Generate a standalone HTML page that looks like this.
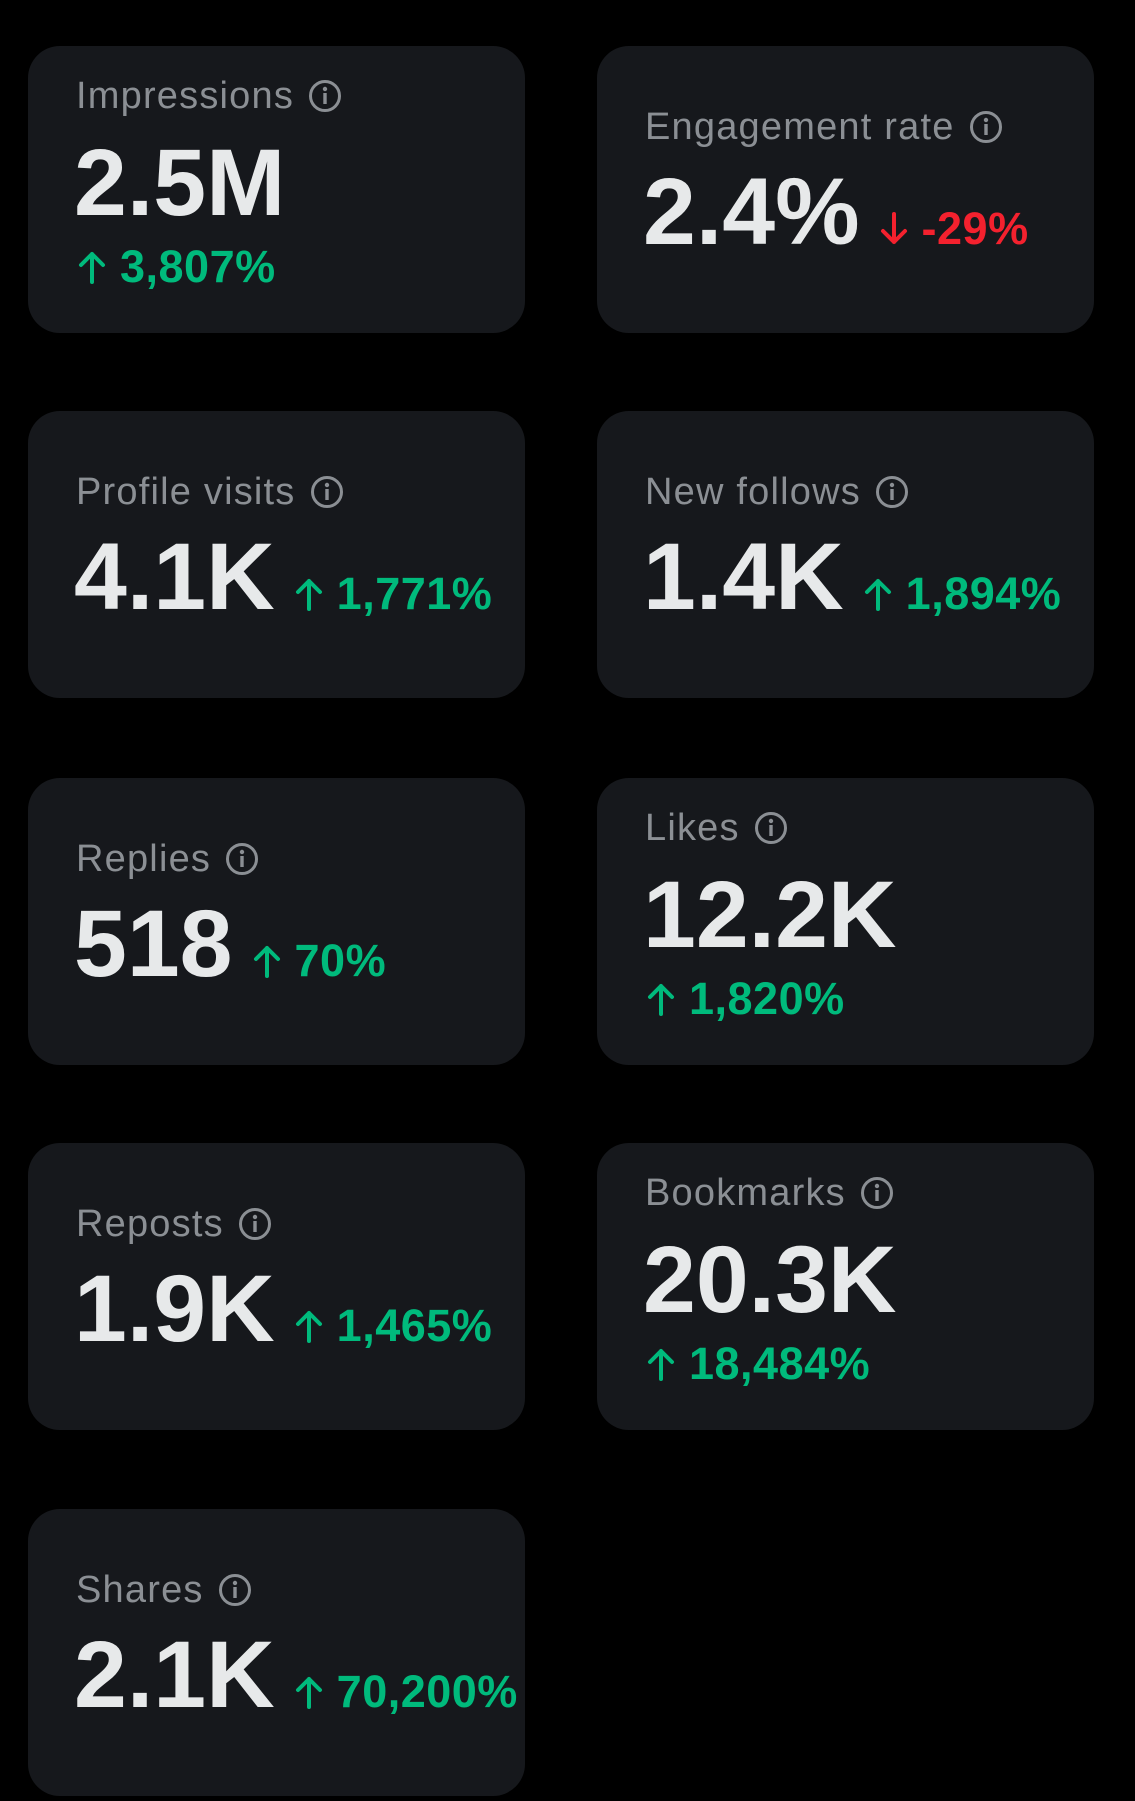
<!DOCTYPE html>
<html><head><meta charset="utf-8"><style>
html,body{margin:0;padding:0;background:#000;}
body{width:1135px;height:1801px;position:relative;overflow:hidden;font-family:"Liberation Sans","DejaVu Sans",sans-serif;}
.card{position:absolute;width:497px;height:287px;background:#16181c;border-radius:32px;}
.l{left:28px}.r{left:597px}
.lab{position:absolute;left:48px;font-size:38px;line-height:38px;color:#8b8f94;white-space:nowrap;display:flex;align-items:center;letter-spacing:1.2px}
.lab svg{margin-left:14px}
.val{position:absolute;left:46px;font-size:95px;line-height:95px;font-weight:bold;color:#e7e9ea;white-space:nowrap;letter-spacing:0px}
.pct{font-size:45px;line-height:45px;font-weight:bold;color:#00ba7c;letter-spacing:0.5px;margin-left:20px}
.pctb{position:absolute;left:50px;font-size:45px;line-height:45px;font-weight:bold;color:#00ba7c;white-space:nowrap;letter-spacing:0.5px}
.ar{display:inline-block;width:28px;height:34px;margin-right:14px;vertical-align:-2px}
.red{color:#f4212e}
.A .lab{top:31px}.A .val{top:90px}.A .pctb{top:198px}
.B .lab{top:62px}.B .val{top:119px}
</style></head><body>
<svg width="0" height="0" style="position:absolute"><defs>
<g id="i"><circle cx="17" cy="17" r="14.5" fill="none" stroke="#8b8f94" stroke-width="3"/><rect x="15.3" y="14" width="3.4" height="11" fill="#8b8f94"/><circle cx="17" cy="10" r="2.2" fill="#8b8f94"/></g>
<g id="up"><path d="M14 32V4M3 15L14 4L25 15" fill="none" stroke="#00ba7c" stroke-width="4" stroke-linecap="round" stroke-linejoin="round"/></g>
<g id="dn"><path d="M14 2V30M3 19L14 30L25 19" fill="none" stroke="#f4212e" stroke-width="4" stroke-linecap="round" stroke-linejoin="round"/></g>
</defs></svg>

<div class="card l A" style="top:46px"><div class="lab">Impressions<svg width="34" height="34"><use href="#i"/></svg></div><div class="val">2.5M</div><div class="pctb"><svg class="ar"><use href="#up"/></svg>3,807%</div></div>
<div class="card r B" style="top:46px"><div class="lab">Engagement rate<svg width="34" height="34"><use href="#i"/></svg></div><div class="val">2.4%<span class="pct red"><svg class="ar"><use href="#dn"/></svg>-29%</span></div></div>

<div class="card l B" style="top:411px"><div class="lab">Profile visits<svg width="34" height="34"><use href="#i"/></svg></div><div class="val">4.1K<span class="pct"><svg class="ar"><use href="#up"/></svg>1,771%</span></div></div>
<div class="card r B" style="top:411px"><div class="lab">New follows<svg width="34" height="34"><use href="#i"/></svg></div><div class="val">1.4K<span class="pct"><svg class="ar"><use href="#up"/></svg>1,894%</span></div></div>

<div class="card l B" style="top:778px"><div class="lab">Replies<svg width="34" height="34"><use href="#i"/></svg></div><div class="val">518<span class="pct"><svg class="ar"><use href="#up"/></svg>70%</span></div></div>
<div class="card r A" style="top:778px"><div class="lab">Likes<svg width="34" height="34"><use href="#i"/></svg></div><div class="val">12.2K</div><div class="pctb"><svg class="ar"><use href="#up"/></svg>1,820%</div></div>

<div class="card l B" style="top:1143px"><div class="lab">Reposts<svg width="34" height="34"><use href="#i"/></svg></div><div class="val">1.9K<span class="pct"><svg class="ar"><use href="#up"/></svg>1,465%</span></div></div>
<div class="card r A" style="top:1143px"><div class="lab">Bookmarks<svg width="34" height="34"><use href="#i"/></svg></div><div class="val">20.3K</div><div class="pctb"><svg class="ar"><use href="#up"/></svg>18,484%</div></div>

<div class="card l B" style="top:1509px"><div class="lab">Shares<svg width="34" height="34"><use href="#i"/></svg></div><div class="val">2.1K<span class="pct"><svg class="ar"><use href="#up"/></svg>70,200%</span></div></div>
</body></html>
